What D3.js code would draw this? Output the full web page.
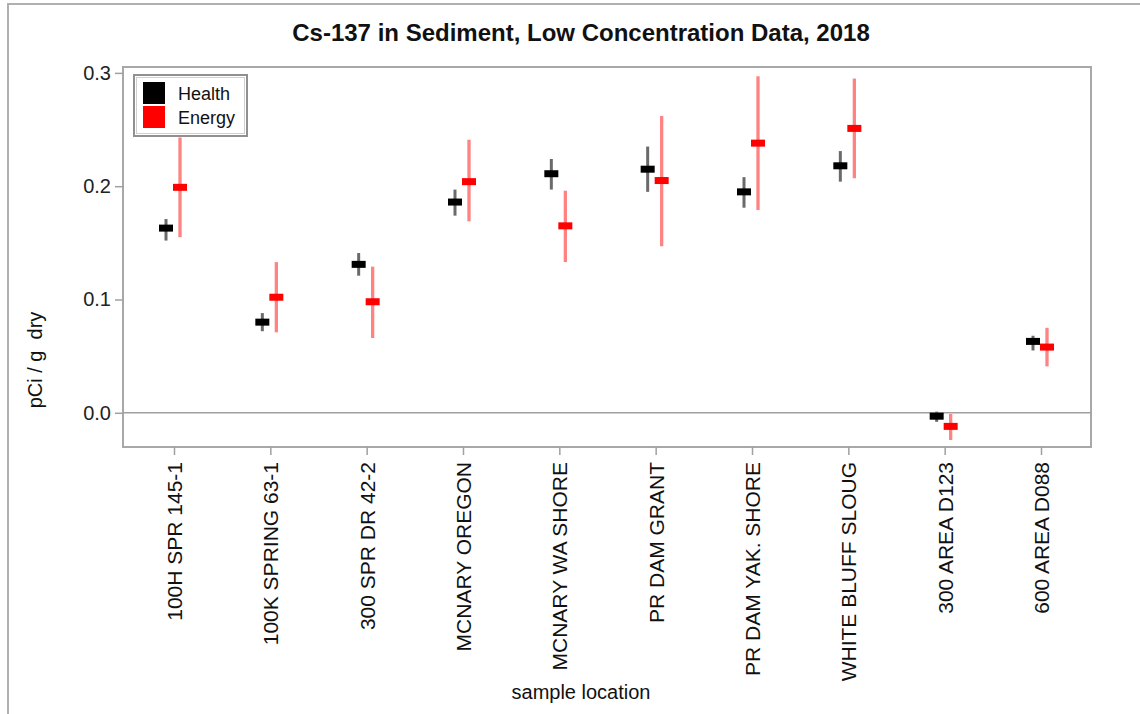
<!DOCTYPE html>
<html>
<head>
<meta charset="utf-8">
<script src="https://cdn.jsdelivr.net/npm/d3@7"></script>
<style>
  html, body { margin: 0; padding: 0; background: #fff; }
  svg { display: block; font-family: Arial, "Liberation Sans", sans-serif; }
</style>
</head>
<body>
<svg id="chart" width="1140" height="714"></svg>
<script>
// ---- data ----
const categories = ["100H SPR 145-1", "100K SPRING 63-1", "300 SPR DR 42-2", "MCNARY OREGON",
  "MCNARY WA SHORE", "PR DAM GRANT", "PR DAM YAK. SHORE", "WHITE BLUFF SLOUG", "300 AREA D123", "600 AREA D088"];
const healthValue = [0.163, 0.080, 0.131, 0.186, 0.211, 0.215, 0.195, 0.218, -0.003, 0.063];
const healthLow   = [0.152, 0.072, 0.121, 0.174, 0.197, 0.195, 0.181, 0.204, -0.008, 0.055];
const healthHigh  = [0.171, 0.088, 0.141, 0.197, 0.224, 0.235, 0.208, 0.231, 0.001, 0.068];
const energyValue = [0.199, 0.102, 0.098, 0.204, 0.165, 0.205, 0.238, 0.251, -0.012, 0.058];
const energyLow   = [0.155, 0.071, 0.066, 0.169, 0.133, 0.147, 0.179, 0.207, -0.024, 0.041];
const energyHigh  = [0.243, 0.133, 0.129, 0.241, 0.196, 0.262, 0.297, 0.295, -0.001, 0.075];
const yTicks = [0.0, 0.1, 0.2, 0.3];
const seriesNames = ["Health", "Energy"];

const svg = d3.select("#chart");
const frame = {left: 123, right: 1091, top: 67, bottom: 447};

const x = d3.scalePoint().domain(categories).range([174, 1041]);
const y = d3.scaleLinear().domain([-0.0302, 0.3052]).range([frame.bottom, frame.top]);

// outer border
svg.append("rect").attr("x", 8).attr("y", 4).attr("width", 1200).attr("height", 800)
  .attr("fill", "none").attr("stroke", "#b0b0b0").attr("stroke-width", 2);

// title
svg.append("text").attr("x", 581).attr("y", 41).attr("text-anchor", "middle")
  .attr("font-size", 24).attr("font-weight", "bold").attr("fill", "#111")
  .text("Cs-137 in Sediment, Low Concentration Data, 2018");

// plot frame
svg.append("rect").attr("x", frame.left).attr("y", frame.top)
  .attr("width", frame.right - frame.left).attr("height", frame.bottom - frame.top)
  .attr("fill", "#fff").attr("stroke", "#a8a8a8").attr("stroke-width", 2);

// zero line
svg.append("line").attr("x1", frame.left).attr("x2", frame.right)
  .attr("y1", y(0)).attr("y2", y(0)).attr("stroke", "#a0a0a0").attr("stroke-width", 1.5);

// y axis
const yAxis = d3.axisLeft(y).tickValues(yTicks).tickFormat(d3.format(".1f")).tickSize(8).tickPadding(4);
const gy = svg.append("g").attr("transform", `translate(${frame.left},0)`).call(yAxis);
gy.select(".domain").remove();
gy.selectAll(".tick line").attr("stroke", "#a0a0a0").attr("stroke-width", 1.5);
gy.selectAll(".tick text").attr("font-size", 20).attr("fill", "#222")
  .attr("font-family", "Arial, 'Liberation Sans', sans-serif");

// x axis
const xAxis = d3.axisBottom(x).tickSize(8).tickPadding(0);
const gx = svg.append("g").attr("transform", `translate(0,${frame.bottom})`).call(xAxis);
gx.select(".domain").remove();
gx.selectAll(".tick line").attr("stroke", "#a0a0a0").attr("stroke-width", 1.5);
gx.selectAll(".tick text")
  .attr("font-size", 21).attr("fill", "#111")
  .attr("font-family", "Arial, 'Liberation Sans', sans-serif")
  .attr("text-anchor", "end")
  .attr("transform", "translate(0,15) rotate(-90)")
  .attr("x", 0).attr("y", 0).attr("dy", "0.36em");

// axis titles
svg.append("text").attr("x", 581).attr("y", 699).attr("text-anchor", "middle")
  .attr("font-size", 20).attr("fill", "#111").text("sample location");
svg.append("text").attr("transform", "translate(42,360) rotate(-90)").attr("text-anchor", "middle")
  .attr("font-size", 20).attr("fill", "#111").style("white-space", "pre").text("pCi / g  dry");

// data marks
const idx = d3.range(categories.length);
const hOff = -8, eOff = 6;

const gH = svg.append("g");
gH.selectAll("line").data(idx).join("line")
  .attr("x1", i => x(categories[i]) + hOff).attr("x2", i => x(categories[i]) + hOff)
  .attr("y1", i => y(healthLow[i])).attr("y2", i => y(healthHigh[i]))
  .attr("stroke", "#6a6a6a").attr("stroke-width", 3);
gH.selectAll("rect").data(idx).join("rect")
  .attr("x", i => x(categories[i]) + hOff - 7).attr("y", i => y(healthValue[i]) - 3.5)
  .attr("width", 14).attr("height", 7).attr("fill", "#000");

const gE = svg.append("g");
gE.selectAll("line").data(idx).join("line")
  .attr("x1", i => x(categories[i]) + eOff).attr("x2", i => x(categories[i]) + eOff)
  .attr("y1", i => y(energyLow[i])).attr("y2", i => y(energyHigh[i]))
  .attr("stroke", "#ff8383").attr("stroke-width", 3.3);
gE.selectAll("rect").data(idx).join("rect")
  .attr("x", i => x(categories[i]) + eOff - 7).attr("y", i => y(energyValue[i]) - 3.5)
  .attr("width", 14).attr("height", 7).attr("fill", "#ff0000");

// legend
const lg = svg.append("g");
lg.append("rect").attr("x", 134).attr("y", 75).attr("width", 113).attr("height", 61)
  .attr("fill", "#fff").attr("stroke", "#909090").attr("stroke-width", 2);
lg.append("rect").attr("x", 136.5).attr("y", 77.5).attr("width", 108).attr("height", 56)
  .attr("fill", "none").attr("stroke", "#d0d0d0").attr("stroke-width", 1);
const legColors = ["#000", "#ff0000"];
seriesNames.forEach((s, i) => {
  lg.append("rect").attr("x", 143).attr("y", 82 + i * 24).attr("width", 22).attr("height", 22)
    .attr("fill", legColors[i]);
  lg.append("text").attr("x", 178).attr("y", 100 + i * 24).attr("font-size", 18)
    .attr("fill", "#111").text(s);
});
</script>
</body>
</html>
